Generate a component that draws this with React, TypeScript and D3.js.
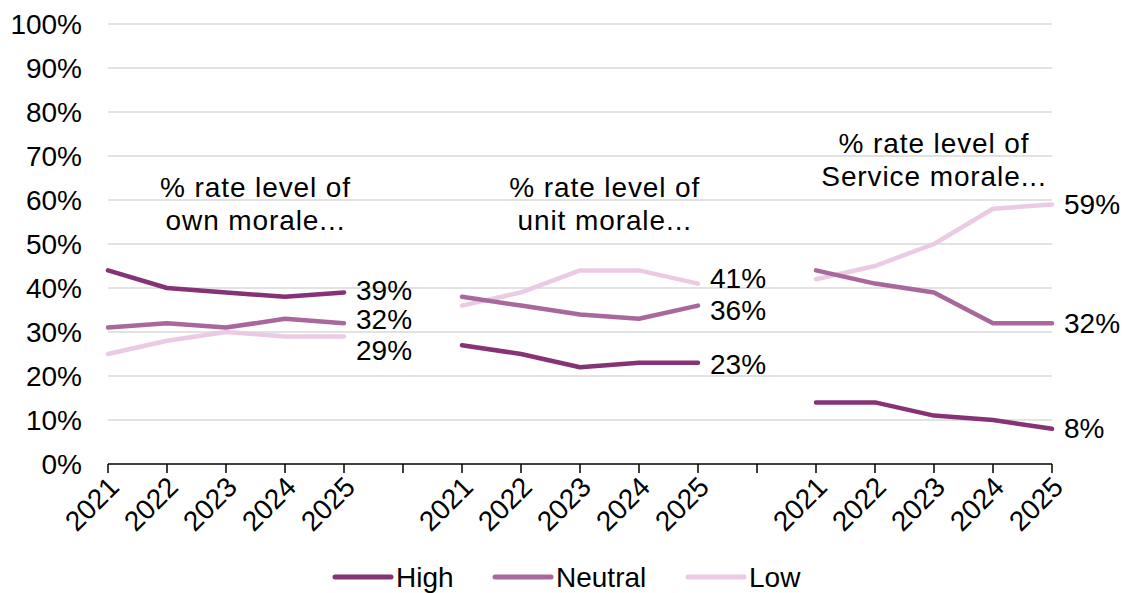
import React from "react";
import * as d3 from "d3";

// Survey years shown in each panel
const years = ["2021", "2022", "2023", "2024", "2025"];

// Panel captions (two lines each)
const panelTitles = [
  ["% rate level of", "own morale..."],
  ["% rate level of", "unit morale..."],
  ["% rate level of", "Service morale..."],
];

// Series values per panel (percent)
const highValues = [
  [44, 40, 39, 38, 39],
  [27, 25, 22, 23, 23],
  [14, 14, 11, 10, 8],
];
const neutralValues = [
  [31, 32, 31, 33, 32],
  [38, 36, 34, 33, 36],
  [44, 41, 39, 32, 32],
];
const lowValues = [
  [25, 28, 30, 29, 29],
  [36, 39, 44, 44, 41],
  [42, 45, 50, 58, 59],
];

const seriesNames = ["High", "Neutral", "Low"];
const yTicks = [0, 10, 20, 30, 40, 50, 60, 70, 80, 90, 100];

const W = 1131;
const H = 593;
const FONT = "'Liberation Sans', Arial, sans-serif";
const colors = ["#853276", "#a8689d", "#ebcae4"];

// vertical nudges for end labels so they don't collide (px), per panel per series
const labelNudge = [
  [-2, -4, 14],
  [2, 5, -5],
  [0, 0, 0],
];
// caption placement: category position and baseline value of first line
const captionPos = [
  { idx: 2.5, v: 60.7 },
  { idx: 8.42, v: 60.7 },
  { idx: 14.0, v: 70.6 },
];

export default function App() {
  const groups = panelTitles.length;
  const slotsPerGroup = years.length + 1;
  const nSlots = groups * slotsPerGroup - 1;
  const slotIdx = d3.range(nSlots);

  const x = d3.scalePoint<number>().domain(slotIdx).range([108, 1052]);
  const step = x.step();
  const xAt = (i: number) => (x(0) as number) + i * step;
  const y = d3.scaleLinear().domain([0, 100]).range([464, 24]);

  const allSeries = [highValues, neutralValues, lowValues];

  const line = d3
    .line<{ i: number; v: number }>()
    .x((d) => xAt(d.i))
    .y((d) => y(d.v));

  return (
    <svg
      width={W}
      height={H}
      style={{ position: "absolute", left: 0, top: 0, background: "#fff" }}
      fontFamily={FONT}
    >
      {/* gridlines */}
      {yTicks.slice(1).map((t) => (
        <line key={t} x1={108} x2={1052} y1={y(t)} y2={y(t)} stroke="#d9d9d9" strokeWidth={1.5} />
      ))}
      {/* y labels */}
      {yTicks.map((t) => (
        <text key={t} x={82} y={y(t)} textAnchor="end" dominantBaseline="central" fontSize={28} fill="#000">
          {t}%
        </text>
      ))}

      {/* series lines */}
      {allSeries
        .map((series, si) => ({ series, si }))
        .reverse()
        .map(({ series, si }) =>
          series.map((vals, g) => {
            const pts = vals.map((v, k) => ({ i: g * slotsPerGroup + k, v }));
            return (
              <path
                key={`${si}-${g}`}
                d={line(pts) || ""}
                fill="none"
                stroke={colors[si]}
                strokeWidth={4.5}
                strokeLinecap="round"
                strokeLinejoin="round"
              />
            );
          })
        )}

      {/* x axis */}
      <line x1={108} x2={1052} y1={464} y2={464} stroke="#000" strokeWidth={1.5} />
      {slotIdx.map((i) => (
        <line key={i} x1={x(i)} x2={x(i)} y1={464} y2={473} stroke="#000" strokeWidth={1.5} />
      ))}
      {slotIdx.map((i) => {
        const k = i % slotsPerGroup;
        if (k >= years.length) return null;
        const px = (x(i) as number) + 6;
        const py = 482;
        return (
          <text
            key={i}
            x={px}
            y={py}
            textAnchor="end"
            dominantBaseline="central"
            fontSize={28}
            transform={`rotate(-45 ${px} ${py})`}
          >
            {years[k]}
          </text>
        );
      })}

      {/* end-of-line value labels */}
      {allSeries.map((series, si) =>
        series.map((vals, g) => {
          const last = vals[vals.length - 1];
          const lx = xAt(g * slotsPerGroup + years.length - 1) + 12;
          return (
            <text
              key={`l-${si}-${g}`}
              x={lx}
              y={y(last) + labelNudge[g][si]}
              dominantBaseline="central"
              fontSize={28}
            >
              {last}%
            </text>
          );
        })
      )}

      {/* panel captions */}
      {panelTitles.map((lines, g) => (
        <text
          key={`c-${g}`}
          x={xAt(captionPos[g].idx)}
          y={y(captionPos[g].v)}
          textAnchor="middle"
          fontSize={28}
          letterSpacing={0.9}
        >
          {lines.map((ln, li) => (
            <tspan key={li} x={xAt(captionPos[g].idx)} dy={li === 0 ? 0 : 33}>
              {ln}
            </tspan>
          ))}
        </text>
      ))}

      {/* legend */}
      {seriesNames.map((name, si) => {
        const lx = [335, 495, 688][si];
        return (
          <g key={name}>
            <line x1={lx} x2={lx + 56} y1={577} y2={577} stroke={colors[si]} strokeWidth={5} strokeLinecap="round" />
            <text x={lx + 61} y={577} dominantBaseline="central" fontSize={28}>
              {name}
            </text>
          </g>
        );
      })}
    </svg>
  );
}
